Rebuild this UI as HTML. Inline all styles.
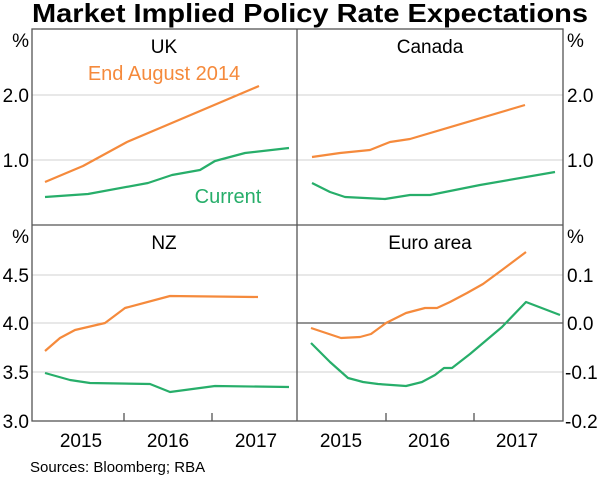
<!DOCTYPE html><html><head><style>body{margin:0;background:#fff}svg{display:block}text{font-family:"Liberation Sans",sans-serif}</style></head><body>
<svg width="600" height="478" viewBox="0 0 600 478">
<text x="310" y="22" text-anchor="middle" font-size="26" font-weight="bold" fill="#000" textLength="556" lengthAdjust="spacingAndGlyphs">Market Implied Policy Rate Expectations</text>
<g stroke="#d0d0d0" stroke-width="1">
<line x1="32" x2="563" y1="95" y2="95"/><line x1="32" x2="563" y1="160" y2="160"/>
<line x1="32" x2="563" y1="275" y2="275"/><line x1="32" x2="563" y1="372" y2="372"/>
</g>
<line x1="297" x2="563" y1="323" y2="323" stroke="#555" stroke-width="1.3"/>
<line x1="32" x2="297" y1="323" y2="323" stroke="#d0d0d0"/>
<g stroke="#555" stroke-width="1.3" fill="none">
<rect x="32" y="29" width="531" height="392"/>
<line x1="297" x2="297" y1="29" y2="421"/><line x1="32" x2="563" y1="225" y2="225"/>
<line x1="124" x2="124" y1="413" y2="421"/><line x1="212" x2="212" y1="413" y2="421"/>
<line x1="386" x2="386" y1="413" y2="421"/><line x1="474" x2="474" y1="413" y2="421"/>
</g>
<g font-size="19" fill="#000">
<text x="164" y="53" text-anchor="middle">UK</text>
<text x="430" y="53" text-anchor="middle">Canada</text>
<text x="164" y="249" text-anchor="middle">NZ</text>
<text x="430" y="249" text-anchor="middle">Euro area</text>
<g text-anchor="end"><text x="29" y="47">%</text><text x="29" y="102">2.0</text><text x="29" y="167">1.0</text>
<text x="29" y="243">%</text><text x="29" y="282">4.5</text><text x="29" y="330">4.0</text><text x="29" y="379">3.5</text><text x="29" y="428">3.0</text></g>
<text x="567" y="47">%</text><text x="567" y="102">2.0</text><text x="567" y="167">1.0</text>
<text x="567" y="243">%</text><text x="567" y="282">0.1</text><text x="567" y="330">0.0</text><text x="565" y="379">-0.1</text><text x="565" y="428">-0.2</text>
<g text-anchor="middle"><text x="81" y="447">2015</text><text x="168" y="447">2016</text><text x="256" y="447">2017</text>
<text x="341" y="447">2015</text><text x="429" y="447">2016</text><text x="517" y="447">2017</text></g>
</g>
<text x="164" y="80" text-anchor="middle" font-size="20" fill="#f58a3c">End August 2014</text>
<text x="228" y="203" text-anchor="middle" font-size="20" fill="#27ae6a">Current</text>
<g fill="none" stroke-width="2.2" stroke-linejoin="round">
<g stroke="#f58a3c">
<polyline points="45,182 83,166 127,142 160,128 259,86"/>
<polyline points="312,157 340,153 370,150 390,142 410,139 525,105"/>
<polyline points="45,351 60,338 75,330 105,323 125,308 170,296 258,297"/>
<polyline points="311,328 341,338 360,337 371,334 386,323 406,313 425,308 437,308 450,302 467,293 483,284 502,270 526,252"/>
</g>
<g stroke="#27ae6a">
<polyline points="45,197 88,194 148,183 172,175 200,170 215,161 245,153 289,148"/>
<polyline points="312,183 330,192 345,197 385,199 410,195 430,195 450,191 480,185 555,172"/>
<polyline points="45,373 70,380 90,383 150,384 170,392 215,386 289,387"/>
<polyline points="311,343 330,362 348,378 363,382 378,384 406,386 422,382 435,375 444,368 452,368 470,354 502,327 526,302 560,315"/>
</g></g>
<text x="30" y="472" font-size="15" fill="#000">Sources:  Bloomberg; RBA</text>
</svg></body></html>
